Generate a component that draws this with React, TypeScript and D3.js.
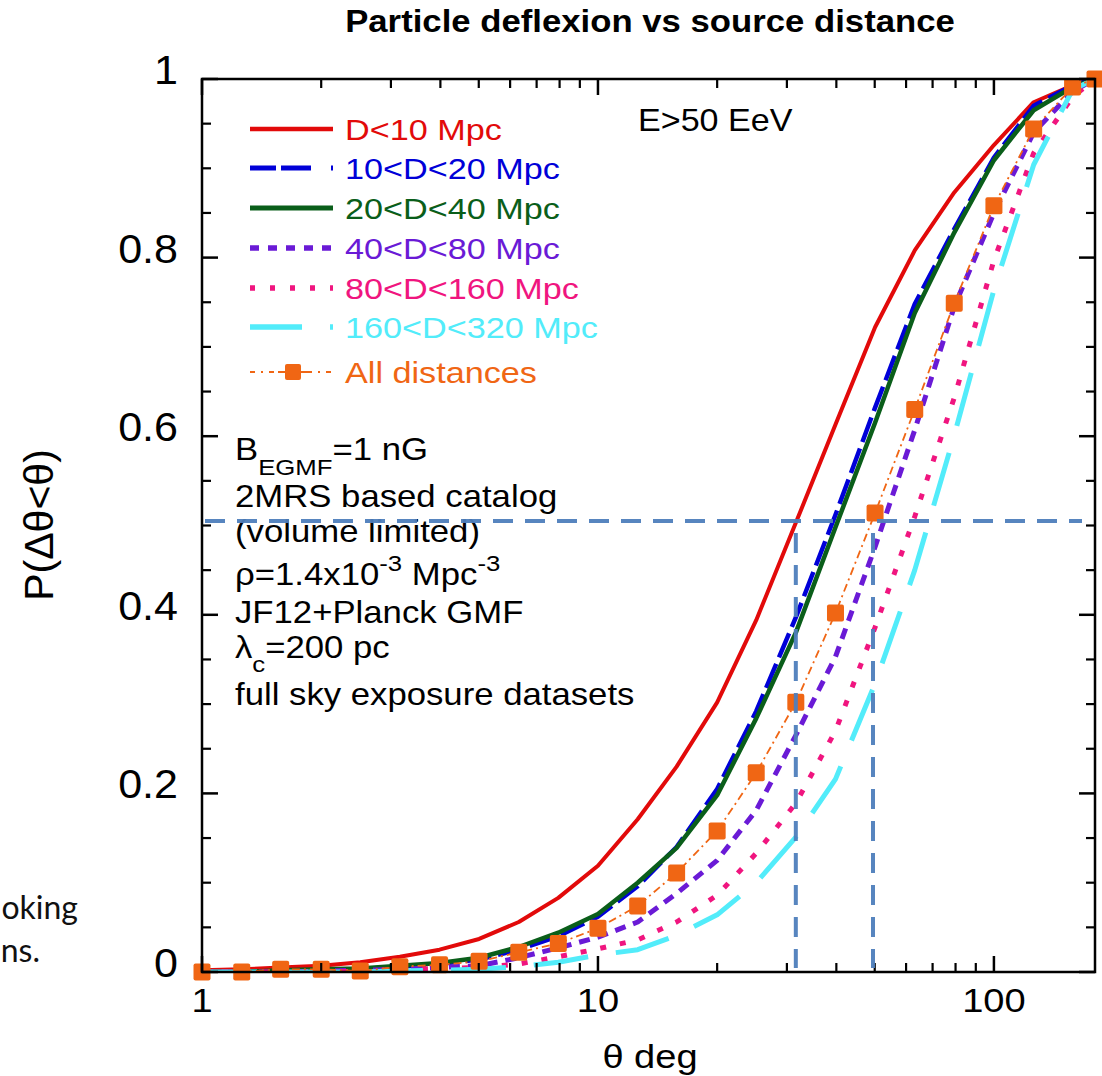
import React from "react";
import * as d3 from "d3";

const thetas = [1, 1.26, 1.58, 2, 2.51, 3.16, 3.98, 5.01, 6.31, 7.94, 10, 12.6, 15.8, 20, 25.1, 31.6, 39.8, 50.1, 63.1, 79.4, 100, 126, 158, 180];

const dLt10 = [0.002, 0.003, 0.005, 0.007, 0.011, 0.017, 0.025, 0.037, 0.056, 0.083, 0.119, 0.171, 0.230, 0.302, 0.394, 0.503, 0.613, 0.722, 0.808, 0.873, 0.926, 0.974, 0.993, 1.0];
const d10to20 = [0.0, 0.0, 0.001, 0.002, 0.003, 0.006, 0.009, 0.014, 0.025, 0.040, 0.062, 0.096, 0.140, 0.205, 0.292, 0.397, 0.512, 0.632, 0.748, 0.832, 0.912, 0.970, 0.993, 1.0];
const d20to40 = [0.0, 0.0, 0.002, 0.003, 0.004, 0.007, 0.010, 0.016, 0.028, 0.044, 0.065, 0.100, 0.139, 0.198, 0.284, 0.380, 0.498, 0.615, 0.738, 0.828, 0.909, 0.965, 0.991, 1.0];
const d40to80 = [0.0, 0.0, 0.0, 0.001, 0.002, 0.003, 0.005, 0.007, 0.016, 0.027, 0.039, 0.056, 0.088, 0.125, 0.181, 0.265, 0.353, 0.476, 0.607, 0.745, 0.850, 0.940, 0.986, 1.0];
const d80to160 = [0.0, 0.0, 0.0, 0.0, 0.001, 0.003, 0.004, 0.005, 0.009, 0.017, 0.026, 0.036, 0.056, 0.086, 0.133, 0.189, 0.270, 0.386, 0.510, 0.643, 0.797, 0.917, 0.980, 1.0];
const d160to320 = [0.0, 0.0, 0.0, 0.0, 0.0, 0.001, 0.002, 0.003, 0.006, 0.011, 0.019, 0.025, 0.041, 0.064, 0.100, 0.151, 0.216, 0.323, 0.450, 0.601, 0.764, 0.904, 0.988, 1.0];
const allDist = [0.0, 0.0, 0.003, 0.003, 0.001, 0.006, 0.008, 0.012, 0.022, 0.032, 0.049, 0.074, 0.111, 0.158, 0.223, 0.302, 0.402, 0.514, 0.630, 0.749, 0.858, 0.944, 0.991, 1.0];

const seriesNames = ["D<10 Mpc", "10<D<20 Mpc", "20<D<40 Mpc", "40<D<80 Mpc", "80<D<160 Mpc", "160<D<320 Mpc", "All distances"];
const seriesValues = [dLt10, d10to20, d20to40, d40to80, d80to160, d160to320, allDist];
const seriesColors = ["#e20a0a", "#0000d8", "#0a5e1a", "#6a1ad6", "#f0157f", "#52ecfa", "#f06614"];
const seriesDash = ["", "26 7", "", "11 8", "6 14", "55 28", "8 4 2 4"];
const legendDash = ["", "26 5 30 20 3 10", "", "9 9", "5 15", "52 28 3 10", ""];
const seriesWidth = [4, 4.5, 4.5, 5, 5, 5, 1.8];

const yTicks = [0, 0.2, 0.4, 0.6, 0.8, 1];
const yTickLabels = ["0", "0.2", "0.4", "0.6", "0.8", "1"];
const xMajor = [1, 10, 100];
const xMajorLabels = ["1", "10", "100"];
const xMinor = [2, 3, 4, 5, 6, 7, 8, 9, 20, 30, 40, 50, 60, 70, 80, 90];
const yMinor = [0.05, 0.1, 0.15, 0.25, 0.3, 0.35, 0.45, 0.5, 0.55, 0.65, 0.7, 0.75, 0.85, 0.9, 0.95];

const refY = 0.505;
const refX = [31.6, 49.5];

const FONT = "'Liberation Sans', Arial, Helvetica, sans-serif";

function SText({ x, y, s = 1, size, anchor = "start", fill = "#000", weight = "normal", rotate = 0, children }: any) {
  return (
    <text
      transform={`translate(${x},${y}) rotate(${rotate}) scale(${s},1)`}
      fontFamily={FONT}
      fontSize={size}
      fontWeight={weight}
      textAnchor={anchor}
      fill={fill}
    >
      {children}
    </text>
  );
}

export default function App() {
  const W = 1102, H = 1076;
  const L = 202, R = 1095, T = 79, B = 972;
  const x = d3.scaleLog().domain([1, 180]).range([L, R]);
  const y = d3.scaleLinear().domain([0, 1]).range([B, T]);
  const line = d3.line<number>().x((_, i) => x(thetas[i])).y((v) => y(v));

  const legendY = [129, 168, 208, 248, 288, 327, 372];
  const annot = { x: 235, size: 31, s: 1.12 };
  const M = 17;

  return (
    <svg width={W} height={H} style={{ position: "absolute", left: 0, top: 0, background: "#fff" }}>
      <defs>
        <clipPath id="plotclip">
          <rect x={L} y={T - 2} width={R - L} height={B - T + 2} />
        </clipPath>
      </defs>
      <rect x={0} y={0} width={W} height={H} fill="#fff" />

      {/* background slide text cut off */}
      <text x={78} y={919} textAnchor="end" fontFamily="Lato, 'Open Sans', sans-serif" fontSize={32} fill="#111">oking</text>
      <text x={40} y={962} textAnchor="end" fontFamily="Lato, 'Open Sans', sans-serif" fontSize={32} fill="#111">ns.</text>

      {/* title */}
      <SText x={650} y={32} s={1.12} size={31} anchor="middle" weight="bold">Particle deflexion vs source distance</SText>

      {/* series lines */}
      <g clipPath="url(#plotclip)">
        {seriesValues.map((vals, k) => (
          <path
            key={k}
            d={line(vals) || ""}
            fill="none"
            stroke={seriesColors[k]}
            strokeWidth={seriesWidth[k]}
            strokeDasharray={seriesDash[k] || undefined}
            strokeLinejoin="round"
          />
        ))}
      </g>
      {/* markers */}
      {allDist.map((v, i) => (
        <rect key={i} x={x(thetas[i]) - M / 2} y={y(v) - M / 2} width={M} height={M} rx={2} fill={seriesColors[6]} />
      ))}

      {/* frame */}
      <rect x={L} y={T} width={R - L} height={B - T} fill="none" stroke="#000" strokeWidth={2.5} />
      {yTicks.map((t) => (
        <g key={"yt" + t}>
          <line x1={L} x2={L + 16} y1={y(t)} y2={y(t)} stroke="#000" strokeWidth={2.5} />
          <line x1={R} x2={R - 16} y1={y(t)} y2={y(t)} stroke="#000" strokeWidth={2.5} />
        </g>
      ))}
      {yMinor.map((t) => (
        <g key={"ym" + t}>
          <line x1={L} x2={L + 9} y1={y(t)} y2={y(t)} stroke="#000" strokeWidth={2.2} />
          <line x1={R} x2={R - 9} y1={y(t)} y2={y(t)} stroke="#000" strokeWidth={2.2} />
        </g>
      ))}
      {xMajor.map((t) => (
        <g key={"xt" + t}>
          <line x1={x(t)} x2={x(t)} y1={B} y2={B - 16} stroke="#000" strokeWidth={2.5} />
          <line x1={x(t)} x2={x(t)} y1={T} y2={T + 16} stroke="#000" strokeWidth={2.5} />
        </g>
      ))}
      {xMinor.map((t) => (
        <g key={"xm" + t}>
          <line x1={x(t)} x2={x(t)} y1={B} y2={B - 9} stroke="#000" strokeWidth={2.2} />
          <line x1={x(t)} x2={x(t)} y1={T} y2={T + 9} stroke="#000" strokeWidth={2.2} />
        </g>
      ))}

      {/* tick labels */}
      {yTicks.map((t, i) => (
        <SText key={"yl" + t} x={178} y={y(t) + 5} s={1.05} size={41} anchor="end">{yTickLabels[i]}</SText>
      ))}
      {xMajor.map((t, i) => (
        <SText key={"xl" + t} x={x(t)} y={1012} s={1.12} size={34} anchor="middle">{xMajorLabels[i]}</SText>
      ))}

      {/* axis titles */}
      <SText x={650} y={1068} s={1.12} size={34} anchor="middle">θ deg</SText>
      <SText x={53} y={525} s={1.0} size={41} anchor="middle" rotate={-90}>P(Δθ&lt;θ)</SText>

      {/* legend */}
      {seriesNames.map((name, k) => (
        <g key={"lg" + k}>
          {k < 6 ? (
            <line x1={250} x2={333} y1={legendY[k]} y2={legendY[k]} stroke={seriesColors[k]} strokeWidth={seriesWidth[k] + 0.5}
              strokeDasharray={legendDash[k] || undefined} />
          ) : (
            <g>
              <line x1={250} x2={333} y1={legendY[k]} y2={legendY[k]} stroke={seriesColors[k]} strokeWidth={2} strokeDasharray="5 6 2 6" />
              <line x1={278} x2={312} y1={legendY[k]} y2={legendY[k]} stroke={seriesColors[k]} strokeWidth={2} />
              <rect x={285} y={legendY[k] - 8} width={16} height={16} rx={2} fill={seriesColors[k]} />
            </g>
          )}
          <SText x={345} y={legendY[k] + 11} s={1.14} size={30} fill={seriesColors[k]}>{name}</SText>
        </g>
      ))}

      {/* energy label */}
      <SText x={638} y={131} s={1.1} size={31}>E&gt;50 EeV</SText>

      {/* annotation block */}
      <SText x={annot.x} y={460} s={annot.s} size={annot.size}>
        B<tspan fontSize={23} dy={15}>EGMF</tspan><tspan dy={-15}>=1 nG</tspan>
      </SText>
      <SText x={annot.x} y={507} s={annot.s} size={annot.size}>2MRS based catalog</SText>
      <SText x={annot.x} y={542} s={annot.s} size={annot.size}>(volume limited)</SText>
      <SText x={annot.x} y={585} s={annot.s} size={annot.size}>
        ρ=1.4x10<tspan fontSize={23} dy={-14}>-3</tspan><tspan dy={14}> Mpc</tspan><tspan fontSize={23} dy={-14}>-3</tspan>
      </SText>
      <SText x={annot.x} y={623} s={annot.s} size={annot.size}>JF12+Planck GMF</SText>
      <SText x={annot.x} y={658} s={annot.s} size={annot.size}>
        λ<tspan fontSize={23} dy={14}>c</tspan><tspan dy={-14}>=200 pc</tspan>
      </SText>
      <SText x={annot.x} y={705} s={annot.s} size={annot.size}>full sky exposure datasets</SText>

      {/* reference dashed lines */}
      <g stroke="#4f7fbc" strokeWidth={4} strokeDasharray="20 12" opacity={0.95}>
        <line x1={205} x2={1082} y1={y(refY)} y2={y(refY)} />
        {refX.map((v) => (
          <line key={"rx" + v} x1={x(v)} x2={x(v)} y1={y(refY) + 12} y2={B - 4} />
        ))}
      </g>
    </svg>
  );
}
